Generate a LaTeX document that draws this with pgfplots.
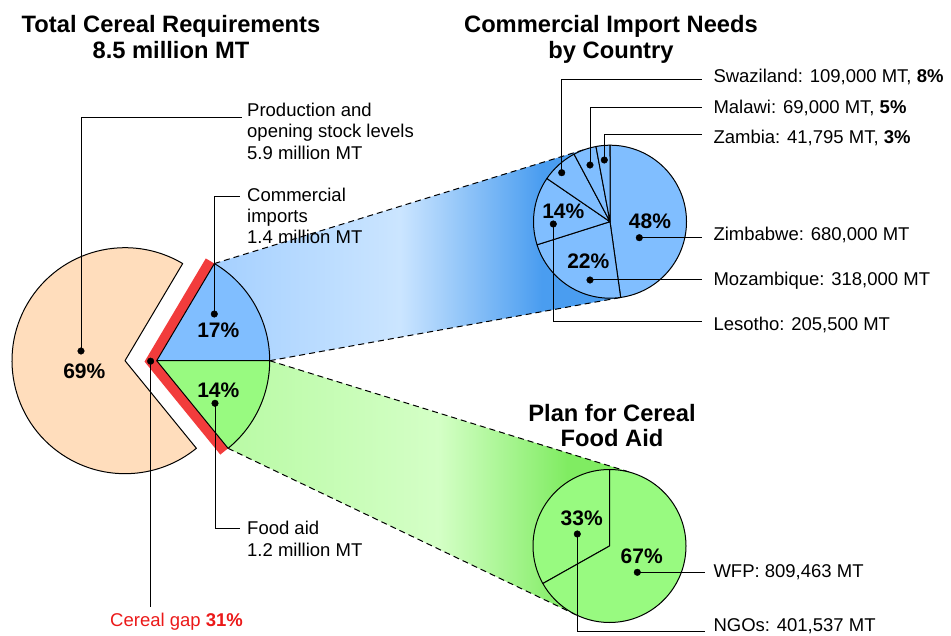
\documentclass[border=0pt]{standalone}
\usepackage{pgfplots}
\pgfplotsset{compat=1.18}
\usepackage{pgfplotstable}
\usepackage{fontspec}
\setmainfont{Liberation Sans}
\usetikzlibrary{calc}

\definecolor{blueslice}{RGB}{128,190,255}
\definecolor{greenslice}{RGB}{152,250,128}
\definecolor{peach}{RGB}{255,221,188}
\definecolor{gapred}{RGB}{242,60,60}
\definecolor{gaptext}{RGB}{235,25,25}
\definecolor{bA}{RGB}{165,208,255}
\definecolor{bB}{RGB}{203,229,255}
\definecolor{bC}{RGB}{74,157,240}
\definecolor{gA}{RGB}{185,250,165}
\definecolor{gB}{RGB}{212,255,198}
\definecolor{gC}{RGB}{128,236,98}

\pgfdeclarehorizontalshading{blueconn}{100bp}{color(0bp)=(bA); color(25bp)=(bA); color(47.7bp)=(bB); color(65bp)=(bC); color(75bp)=(bC); color(100bp)=(bC)}
\pgfdeclarehorizontalshading{greenconn}{100bp}{color(0bp)=(gA); color(25bp)=(gA); color(51bp)=(gB); color(67bp)=(gC); color(75bp)=(gC); color(100bp)=(gC)}

% Total cereal requirements (million MT)
\pgfplotstableread{
part value
Production 5.9
Commercial 1.4
FoodAid 1.2
}\totaltable
% Commercial import needs (thousand MT)
\pgfplotstableread{
country value
Zimbabwe 680
Mozambique 318
Lesotho 205.5
Swaziland 109
Malawi 69
Zambia 41.795
}\importtable
% Cereal food aid (thousand MT)
\pgfplotstableread{
agency value
WFP 809.463
NGOs 401.537
}\aidtable

\newcommand\getv[3]{\pgfplotstablegetelem{#2}{value}\of#1\edef#3{\pgfplotsretval}}
\newcommand\labfont{\fontsize{18.5}{21}\selectfont}
\newcommand\ttlfont{\fontsize{23.7}{26}\selectfont\bfseries}
\newcommand\pctfont{\fontsize{21}{24}\selectfont\bfseries}
% slice: cx, cy, r, start, end, fill
\newcommand\slice[6]{\filldraw[fill=#6, draw=black, line width=1pt, line join=round] (axis cs:#1,#2) -- ++(#4:#3pt) arc[start angle=#4, end angle=#5, radius=#3pt] -- cycle;}
\newcommand\lab[3]{\node[anchor=base west, inner sep=0pt, font=\labfont] at (axis cs:#1,#2) {#3};}
\newcommand\ttl[3]{\node[anchor=base, inner sep=0pt, font=\ttlfont] at (axis cs:#1,#2) {#3};}
\newcommand\pct[3]{\node[anchor=center, inner sep=0pt, font=\pctfont] at (axis cs:#1,#2) {#3};}

\begin{document}
\begin{tikzpicture}
\getv\totaltable{0}\vProd
\getv\totaltable{1}\vComm
\getv\totaltable{2}\vFood
\getv\importtable{0}\vZim
\getv\importtable{1}\vMoz
\getv\importtable{2}\vLes
\getv\importtable{3}\vSwa
\getv\importtable{4}\vMal
\getv\importtable{5}\vZam
\getv\aidtable{0}\vWFP
\getv\aidtable{1}\vNGO
\pgfmathsetmacro\tT{\vProd+\vComm+\vFood}
\pgfmathsetmacro\aComm{\vComm/\tT*360}
\pgfmathsetmacro\aFood{\vFood/\tT*360}
\pgfmathsetmacro\aPend{360-\aFood}
\pgfmathsetmacro\aFoodNeg{-\aFood}
\pgfmathsetmacro\halfA{(\aComm+\aFood)/2}
\pgfmathsetmacro\bisA{(\aComm-\aFood)/2+180}
\pgfmathsetmacro\vOff{5/sin(\halfA)}
\pgfmathsetmacro\nA{\aComm+90}
\pgfmathsetmacro\nB{-\aFood-90}
\pgfmathsetmacro\iT{\vZim+\vMoz+\vLes+\vSwa+\vMal+\vZam}
\pgfmathsetmacro\kA{90}
\pgfmathsetmacro\kB{\kA-\vZim/\iT*360}
\pgfmathsetmacro\kC{\kB-\vMoz/\iT*360}
\pgfmathsetmacro\kD{\kC-\vLes/\iT*360}
\pgfmathsetmacro\kE{\kD-\vSwa/\iT*360}
\pgfmathsetmacro\kF{\kE-\vMal/\iT*360}
\pgfmathsetmacro\kG{\kF-\vZam/\iT*360}
\pgfmathsetmacro\fT{\vWFP+\vNGO}
\pgfmathsetmacro\fA{90}
\pgfmathsetmacro\fB{90+\vNGO/\fT*360}
\pgfmathsetmacro\fC{90-\vWFP/\fT*360}
\begin{axis}[at={(0,0)}, anchor=south west, width=951pt, height=636pt, scale only axis,
  xmin=0, xmax=951, ymin=0, ymax=636, y dir=reverse, hide axis, clip=false]
% connector gradients
\addplot[draw=none, shade, shading=blueconn] coordinates {(214.41,263.54) (587.41,148.61) (610,221.7) (623.53,296.99) (269.7,360.7)} -- cycle;
\addplot[draw=none, shade, shading=greenconn] coordinates {(269.7,360.7) (632.1,472.9) (609.5,546) (576.44,614.99) (228.06,448.33)} -- cycle;
% dashed connectors
\addplot[black, mark=none, line width=1pt, dash pattern=on 6pt off 4pt] coordinates {(214.41,263.54) (587.41,148.61)};
\addplot[black, mark=none, line width=1pt, dash pattern=on 6pt off 4pt] coordinates {(269.7,360.7) (623.53,296.99)};
\addplot[black, mark=none, line width=1pt, dash pattern=on 6pt off 4pt] coordinates {(269.7,360.7) (632.1,472.9)};
\addplot[black, mark=none, line width=1pt, dash pattern=on 6pt off 4pt] coordinates {(228.06,448.33) (576.44,614.99)};
% red cereal gap band
\draw[gapred, line width=10pt, line join=miter, line cap=butt]
  ($(axis cs:156.7,360.7)+(\aComm:113pt)+(\nA:5pt)$) --
  ($(axis cs:156.7,360.7)+(\bisA:\vOff pt)$) --
  ($(axis cs:156.7,360.7)+(\aFoodNeg:113pt)+(\nB:5pt)$);
% main pie
\slice{125}{360.7}{113}{\aComm}{\aPend}{peach}
\slice{156.7}{360.7}{113}{0}{\aComm}{blueslice}
\slice{156.7}{360.7}{113}{0}{\aFoodNeg}{greenslice}
% commercial imports pie
\slice{610}{221.7}{76.5}{\kA}{\kB}{blueslice}
\slice{610}{221.7}{76.5}{\kB}{\kC}{blueslice}
\slice{610}{221.7}{76.5}{\kC}{\kD}{blueslice}
\slice{610}{221.7}{76.5}{\kD}{\kE}{blueslice}
\slice{610}{221.7}{76.5}{\kE}{\kF}{blueslice}
\slice{610}{221.7}{76.5}{\kF}{\kG}{blueslice}
% food aid pie
\slice{609.5}{546}{76.5}{\fA}{\fB}{greenslice}
\slice{609.5}{546}{76.5}{\fA}{\fC}{greenslice}
% leader lines
\addplot[black, mark=none, line width=1pt] coordinates {(81,351) (81,117.7) (241.7,117.7)};
\addplot[black, mark=none, line width=1pt] coordinates {(214.3,314) (214.3,196.7) (240,196.7)};
\addplot[black, mark=none, line width=1pt] coordinates {(215,403.3) (215,528.3) (240,528.3)};
\addplot[black, mark=none, line width=1pt] coordinates {(150.6,361.2) (150.6,606.7)};
\addplot[black, mark=none, line width=1pt] coordinates {(561.7,172.7) (561.7,80) (701.7,80)};
\addplot[black, mark=none, line width=1pt] coordinates {(590,165) (590,107.3) (701.7,107.3)};
\addplot[black, mark=none, line width=1pt] coordinates {(604.3,160) (604.3,135) (701.7,135)};
\addplot[black, mark=none, line width=1pt] coordinates {(639.3,237.7) (701.7,237.7)};
\addplot[black, mark=none, line width=1pt] coordinates {(590,280) (701.7,280)};
\addplot[black, mark=none, line width=1pt] coordinates {(553.3,224) (553.3,321.7) (701.7,321.7)};
\addplot[black, mark=none, line width=1pt] coordinates {(577.3,534) (577.3,631.5) (705,631.5)};
\addplot[black, mark=none, line width=1pt] coordinates {(637.3,572.3) (705,572.3)};
\addplot[black, only marks, mark=*, mark size=3.3pt] coordinates {(81,351) (214.3,314) (215,403.3) (150.6,361.2) (561.7,172.7) (590,165) (604.3,160) (639.3,237.7) (590,280) (553.3,224) (577.3,534) (637.3,572.3)};
% percentages
\pct{84.3}{371.7}{69\%}
\pct{218.3}{330}{17\%}
\pct{218.3}{390}{14\%}
\pct{650}{221.7}{48\%}
\pct{588.3}{261.7}{22\%}
\pct{563.3}{211.7}{14\%}
\pct{581.7}{518.3}{33\%}
\pct{641.7}{556.7}{67\%}
% titles
\ttl{171}{33}{Total Cereal Requirements}
\ttl{171}{59}{8.5 million MT}
\ttl{611}{33}{Commercial Import Needs}
\ttl{611}{59}{by Country}
\ttl{612}{421.5}{Plan for Cereal}
\ttl{612}{447}{Food Aid}
% labels
\lab{247}{116.7}{Production and}
\lab{247}{138}{opening stock levels}
\lab{247}{159.3}{5.9 million MT}
\lab{247}{201.7}{Commercial}
\lab{247}{222.7}{imports}
\lab{247}{243.7}{1.4 million MT}
\lab{247}{534.7}{Food aid}
\lab{247}{556.2}{1.2 million MT}
\node[anchor=base west, inner sep=0pt, font=\labfont, text=gaptext] at (axis cs:110,626.5) {Cereal gap \textbf{31\%}};
\lab{713.3}{82.7}{Swaziland: 109,000 MT, \textbf{8\%}}
\lab{713.3}{113.3}{Malawi: 69,000 MT, \textbf{5\%}}
\lab{713.3}{144}{Zambia: 41,795 MT, \textbf{3\%}}
\lab{713.3}{240.7}{Zimbabwe: 680,000 MT}
\lab{713.3}{286}{Mozambique: 318,000 MT}
\lab{713.3}{330.7}{Lesotho: 205,500 MT}
\lab{713.3}{577}{WFP: 809,463 MT}
\lab{713.3}{631}{NGOs: 401,537 MT}
\end{axis}
\pgfresetboundingbox
\path[use as bounding box] (0,0) rectangle (951pt,636pt);
\end{tikzpicture}
\end{document}
